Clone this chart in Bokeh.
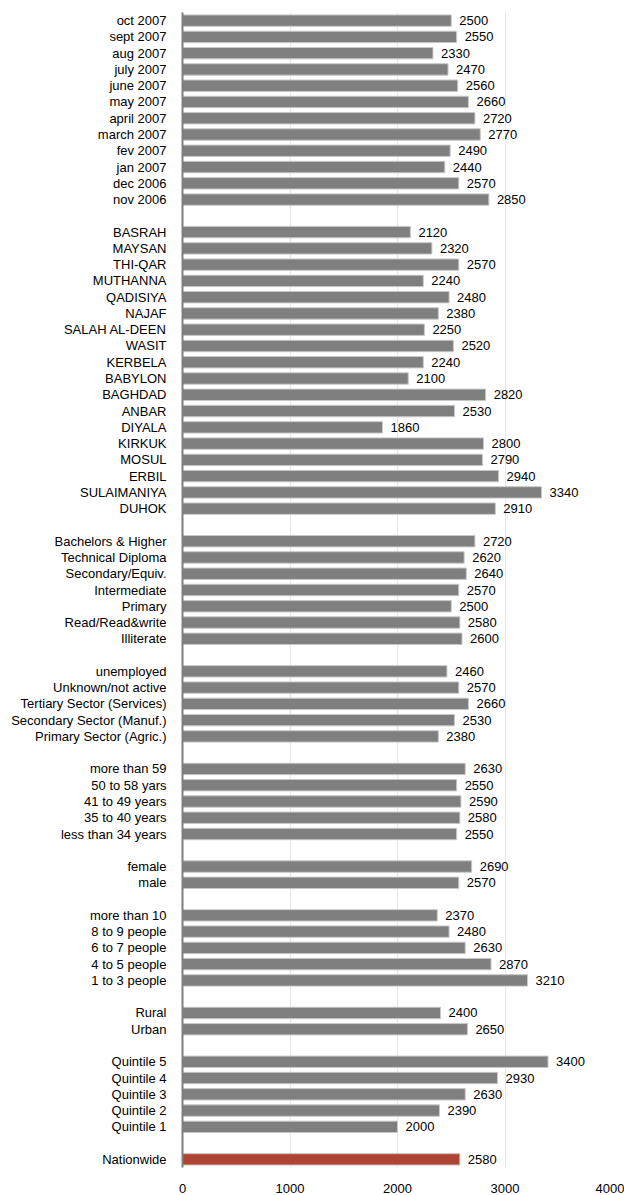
from bokeh.plotting import figure
from bokeh.models import ColumnDataSource, FixedTicker, Range1d
from bokeh.core.properties import value
from bokeh.embed import file_html
from bokeh.resources import INLINE

months = ["oct 2007", "sept 2007", "aug 2007", "july 2007", "june 2007", "may 2007",
          "april 2007", "march 2007", "fev 2007", "jan 2007", "dec 2006", "nov 2006"]
month_vals = [2500, 2550, 2330, 2470, 2560, 2660, 2720, 2770, 2490, 2440, 2570, 2850]

governorates = ["BASRAH", "MAYSAN", "THI-QAR", "MUTHANNA", "QADISIYA", "NAJAF",
                "SALAH AL-DEEN", "WASIT", "KERBELA", "BABYLON", "BAGHDAD", "ANBAR",
                "DIYALA", "KIRKUK", "MOSUL", "ERBIL", "SULAIMANIYA", "DUHOK"]
gov_vals = [2120, 2320, 2570, 2240, 2480, 2380, 2250, 2520, 2240, 2100, 2820, 2530,
            1860, 2800, 2790, 2940, 3340, 2910]

education = ["Bachelors & Higher", "Technical Diploma", "Secondary/Equiv.", "Intermediate",
             "Primary", "Read/Read&write", "Illiterate"]
edu_vals = [2720, 2620, 2640, 2570, 2500, 2580, 2600]

employment = ["unemployed", "Unknown/not active", "Tertiary Sector (Services)",
              "Secondary Sector (Manuf.)", "Primary Sector (Agric.)"]
emp_vals = [2460, 2570, 2660, 2530, 2380]

age = ["more than 59", "50 to 58 yars", "41 to 49 years", "35 to 40 years", "less than 34 years"]
age_vals = [2630, 2550, 2590, 2580, 2550]

gender = ["female", "male"]
gender_vals = [2690, 2570]

hh_size = ["more than 10", "8 to 9 people", "6 to 7 people", "4 to 5 people", "1 to 3 people"]
hh_vals = [2370, 2480, 2630, 2870, 3210]

area = ["Rural", "Urban"]
area_vals = [2400, 2650]

quintiles = ["Quintile 5", "Quintile 4", "Quintile 3", "Quintile 2", "Quintile 1"]
quint_vals = [3400, 2930, 2630, 2390, 2000]

nation = ["Nationwide"]
nation_vals = [2580]

x_ticks = [0, 1000, 2000, 3000, 4000]

groups = [(months, month_vals), (governorates, gov_vals), (education, edu_vals),
          (employment, emp_vals), (age, age_vals), (gender, gender_vals),
          (hh_size, hh_vals), (area, area_vals), (quintiles, quint_vals),
          (nation, nation_vals)]

GRAY = "#7f7f7f"
RED = "#b04434"

ys, labels, vals, colors = [], [], [], []
pos = 0
for gi, (labs, vs) in enumerate(groups):
    for lab, v in zip(labs, vs):
        ys.append(pos)
        labels.append(lab)
        vals.append(v)
        colors.append(RED if lab == "Nationwide" else GRAY)
        pos += 1
    pos += 1
n_rows = pos - 1

src = ColumnDataSource(dict(y=ys, v=vals, c=colors, t=[str(v) for v in vals]))

p = figure(width=624, height=1195, output_backend="svg", toolbar_location=None,
           x_range=Range1d(0, 4000), y_range=Range1d(n_rows - 0.5, -0.5),
           min_border_left=182, min_border_right=12, min_border_top=12, min_border_bottom=0)
p.outline_line_color = None

p.hbar(y="y", right="v", left=0, height=0.7, fill_color="c", line_color="#c8c8c8",
       line_width=1, source=src)
p.text(x="v", y="y", text="t", x_offset=8, text_baseline="middle", text_align="left",
       text_font=value("Liberation Sans"), text_font_size="13px", text_color="#000000",
       source=src)

p.yaxis.ticker = FixedTicker(ticks=ys)
p.yaxis.major_label_overrides = {y: l for y, l in zip(ys, labels)}
p.yaxis.major_tick_line_color = None
p.yaxis.minor_tick_line_color = None
p.yaxis.major_tick_out = 0
p.yaxis.major_tick_in = 0
p.yaxis.axis_line_color = GRAY
p.yaxis.axis_line_width = 2
p.yaxis.major_label_standoff = 16
p.yaxis.major_label_text_font = "Liberation Sans"
p.yaxis.major_label_text_font_size = "13px"
p.yaxis.major_label_text_color = "#000000"

p.xaxis.ticker = FixedTicker(ticks=x_ticks)
p.xaxis.axis_line_color = None
p.xaxis.major_tick_line_color = None
p.xaxis.minor_tick_line_color = None
p.xaxis.major_tick_out = 0
p.xaxis.major_tick_in = 0
p.xaxis.major_label_standoff = 16
p.xaxis.major_label_text_font = "Liberation Sans"
p.xaxis.major_label_text_font_size = "13px"
p.xaxis.major_label_text_color = "#000000"

p.ygrid.grid_line_color = None
p.xgrid.grid_line_color = "#e6e6e6"
p.xgrid.grid_line_width = 1

open("out.html", "w").write(file_html(p, INLINE))
